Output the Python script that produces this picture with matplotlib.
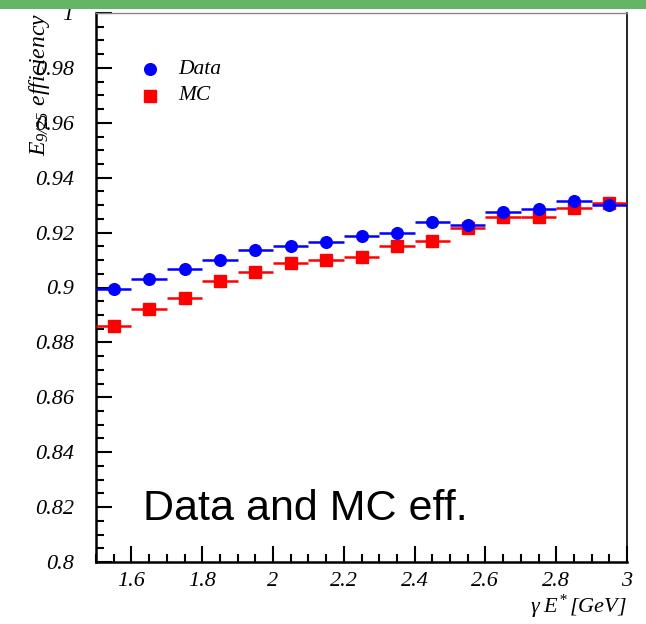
import matplotlib
matplotlib.use("Agg")
import matplotlib.pyplot as plt
from matplotlib.ticker import MultipleLocator, FixedLocator, FuncFormatter
from matplotlib.patches import Rectangle

# Photon energy bins (bin centres, GeV) and efficiencies
energy = [1.55, 1.65, 1.75, 1.85, 1.95, 2.05, 2.15, 2.25, 2.35, 2.45,
          2.55, 2.65, 2.75, 2.85, 2.95]
half_width = 0.05
eff_data = [0.8995, 0.9030, 0.9068, 0.9102, 0.9135, 0.9153, 0.9164, 0.9186,
            0.9200, 0.9240, 0.9228, 0.9274, 0.9285, 0.9314, 0.9300]
eff_mc = [0.8858, 0.8922, 0.8963, 0.9022, 0.9055, 0.9088, 0.9101, 0.9111,
          0.9153, 0.9170, 0.9215, 0.9258, 0.9256, 0.9290, 0.9307]

x_ticks = [1.6, 1.8, 2.0, 2.2, 2.4, 2.6, 2.8, 3.0]
y_ticks = [0.8, 0.82, 0.84, 0.86, 0.88, 0.9, 0.92, 0.94, 0.96, 0.98, 1.0]

plt.rcParams["font.family"] = ["Liberation Serif"]
plt.rcParams["font.style"] = "italic"
plt.rcParams["mathtext.fontset"] = "custom"
plt.rcParams["mathtext.rm"] = "Liberation Serif"
plt.rcParams["mathtext.it"] = "Liberation Serif:italic"

W, H = 646, 624
fig = plt.figure(figsize=(W / 100, H / 100), dpi=100)
fig.patch.set_facecolor("white")

# Green title band across the top
fig.patches.append(Rectangle((0, 1 - 9 / H), 1, 9 / H, transform=fig.transFigure,
                             facecolor="#66b466", edgecolor="none", zorder=0))

ax = fig.add_axes([96 / W, 1 - 562 / H, (627 - 96) / W, (562 - 13) / H])
ax.set_xlim(1.5, 3.0)
ax.set_ylim(0.8, 1.0)

# MC first, then data on top
ax.errorbar(energy, eff_mc, xerr=half_width, fmt="s", color="#ff0000",
            ms=8.0, mec="#ff0000", elinewidth=1.8, capsize=0, zorder=3)
ax.errorbar(energy, eff_data, xerr=half_width, fmt="o", color="#0000ff",
            ms=8.4, mec="#0000ff", elinewidth=1.8, capsize=0, zorder=4)

# Axes frame
ax.spines["left"].set_linewidth(1.8)
ax.spines["bottom"].set_linewidth(1.8)
ax.spines["right"].set_linewidth(1.2)
ax.spines["top"].set_linewidth(1.0)
ax.spines["top"].set_color("#888888")

ax.xaxis.set_major_locator(FixedLocator(x_ticks))
ax.xaxis.set_minor_locator(MultipleLocator(0.05))
ax.yaxis.set_major_locator(FixedLocator(y_ticks))
ax.yaxis.set_minor_locator(MultipleLocator(0.005))

def fmt(v, pos):
    return f"{v:.2f}".rstrip("0").rstrip(".")

ax.xaxis.set_major_formatter(FuncFormatter(fmt))
ax.yaxis.set_major_formatter(FuncFormatter(fmt))

ax.tick_params(axis="both", which="both", direction="in", top=False, right=False,
               color="black", labelsize=16)
ax.tick_params(axis="both", which="major", length=11.5, width=1.5)
ax.tick_params(axis="both", which="minor", length=6, width=1.5)
ax.tick_params(axis="x", which="major", pad=7)
ax.tick_params(axis="y", which="major", pad=16)

# Axis titles
fig.text(39 / W, 1 - 13 / H, r"$E_{9/25}$ efficiency", rotation=90,
         ha="center", va="top", fontsize=17)
fig.text(627 / W, 1 - 607 / H, r"$\mathrm{γ}\;E^{*}\,[GeV]$",
         ha="right", va="center", fontsize=16)

# Legend
fig.lines.append(plt.Line2D([150 / W], [1 - 69 / H], marker="o", color="#0000ff",
                            ms=8.4, ls="none", transform=fig.transFigure))
fig.lines.append(plt.Line2D([150 / W], [1 - 96 / H], marker="s", color="#ff0000",
                            ms=8.0, ls="none", transform=fig.transFigure))
fig.text(178 / W, 1 - 69 / H, "Data", ha="left", va="center", fontsize=15.5)
fig.text(178 / W, 1 - 96 / H, "MC", ha="left", va="center", fontsize=15.5)

fig.text(143 / W, 1 - 520 / H, "Data and MC eff.", ha="left", va="baseline",
         fontsize=31, family="Liberation Sans", style="normal")

fig.savefig("out.png", dpi=100)
